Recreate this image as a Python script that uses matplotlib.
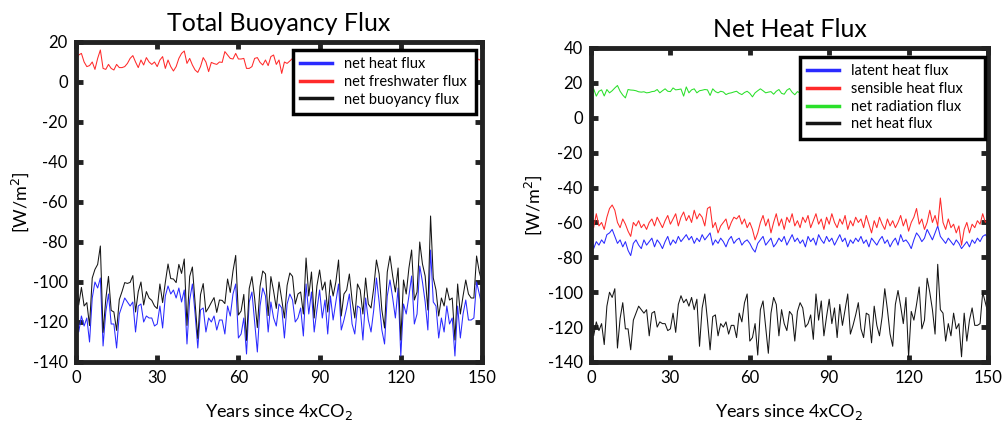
import numpy as np
import matplotlib
matplotlib.use("Agg")
import matplotlib.pyplot as plt
from matplotlib.lines import Line2D

plt.rcParams['font.family'] = ['Lato', 'DejaVu Sans']
plt.rcParams['axes.unicode_minus'] = False

# ---------------- data ----------------
x_ticks = [0, 30, 60, 90, 120, 150]
left_yticks = [-140, -120, -100, -80, -60, -40, -20, 0, 20]
right_yticks = [-140, -120, -100, -80, -60, -40, -20, 0, 20, 40]

# net heat flux (left blue, right black) years 0..150
net_heat = [
    -107, -125, -117, -122, -118, -130, -108, -100, -103, -98,
    -132, -115, -106, -121, -121, -133, -116, -112, -108, -110,
    -112, -110, -125, -112, -111, -120, -117, -118, -118, -122,
    -121, -112, -123, -107, -102, -106, -104, -108, -103, -110,
    -104, -131, -109, -101, -116, -133, -114, -113, -125, -118,
    -120, -117, -124, -119, -119, -126, -112, -117, -106, -101,
    -128, -126, -118, -136, -110, -105, -120, -135, -112, -103,
    -107, -125, -110, -118, -122, -111, -113, -128, -111, -106,
    -109, -120, -118, -113, -127, -101, -116, -105, -125, -114,
    -104, -118, -109, -126, -107, -119, -110, -101, -124, -119,
    -113, -106, -121, -126, -112, -113, -129, -108, -119, -125,
    -114, -98, -110, -124, -131, -107, -99, -108, -118, -103,
    -137, -111, -116, -107, -97, -121, -116, -92, -100, -110,
    -124, -84, -110, -112, -128, -118, -125, -112, -121, -118,
    -137, -112, -128, -116, -109, -119, -119, -118, -100, -106,
    -112]

net_freshwater = [
    11, 13.5, 14.3, 10, 7.7, 8.2, 10, 6.3, 11.8, 16,
    6.8, 6.3, 8.8, 6.8, 6, 8.8, 7.2, 7.2, 7.7, 9.3,
    11.8, 13.2, 10, 7.2, 11, 8.5, 12.2, 10, 8.8, 10,
    7.7, 11, 12.7, 6.8, 11, 7.7, 5.5, 7.7, 11.8, 14.3,
    15.5, 9.3, 11.8, 8.5, 6, 4.8, 7.7, 12.2, 10, 5.2,
    9.8, 9.2, 8.8, 10, 9.8, 15.2, 13.5, 11.8, 11.5, 14.3,
    11.5, 11.5, 11.8, 6.8, 6.8, 7.7, 11.8, 12.2, 9.8, 8.5,
    11, 8.2, 12.7, 13.5, 8.8, 11, 4.3, 10, 9.3, 10.5,
    11.8, 9, 12, 8, 11, 13, 9, 10, 7, 12,
    10, 12, 9, 11, 8, 12, 10, 12, 7, 12,
    9, 10, 12, 8, 11, 9, 12, 10, 8, 12,
    11, 9, 12, 10, 8, 12, 12, 11, 12, 10,
    8, 12, 10, 12, 12, 12, 11, 12, 9, 12,
    10, 12, 12, 8, 11, 10, 12, 9, 12, 10,
    8, 11, 12, 9, 10, 12, 11, 10, 12, 11,
    12]

net_buoyancy = [
    -96, -111.5, -102.7, -112, -110.3, -121.8, -98, -93.7, -91.2, -82,
    -125.2, -108.7, -97.2, -114.2, -115, -124.2, -108.8, -104.8, -100.3, -100.7,
    -100.2, -96.8, -115, -104.8, -100, -111.5, -104.8, -108, -109.2, -112,
    -113.3, -101, -110.3, -100.2, -91, -98.3, -98.5, -100.3, -91.2, -95.7,
    -88.5, -121.7, -97.2, -92.5, -110, -128.2, -106.3, -100.8, -115, -112.8,
    -110.2, -107.8, -115.2, -109, -109.2, -110.8, -98.5, -105.2, -94.5, -86.7,
    -116.5, -114.5, -106.2, -129.2, -103.2, -97.3, -108.2, -122.8, -102.2, -94.5,
    -96, -116.8, -97.3, -104.5, -113.2, -100, -108.7, -118, -101.7, -95.5,
    -97.2, -111, -106, -105, -116, -88, -107, -95, -118, -102,
    -94, -104, -100, -115, -99, -107, -100, -89, -117, -106,
    -104, -96, -109, -118, -101, -104, -116, -98, -111, -113,
    -103, -89, -96, -114, -123, -95, -87, -97, -105, -93,
    -129, -99, -106, -93, -84, -109, -105, -80, -91, -97,
    -114, -67, -98, -104, -117, -108, -112, -103, -109, -108,
    -129, -101, -116, -107, -99, -106, -108, -108, -87, -95,
    -100]

latent_heat = [
    -68, -75, -71, -73, -70, -72, -67, -66, -64, -68,
    -72, -70, -74, -71, -76, -79, -72, -70, -73, -75,
    -70, -73, -71, -69, -74, -70, -72, -75, -71, -68,
    -73, -70, -72, -68, -71, -69, -67, -70, -68, -72,
    -69, -71, -67, -70, -68, -66, -73, -70, -72, -69,
    -71, -74, -70, -68, -72, -70, -69, -73, -71, -70,
    -72, -75, -77, -72, -70, -68, -73, -71, -69, -74,
    -72, -69, -71, -68, -73, -70, -67, -71, -69, -72,
    -70, -74, -68, -71, -69, -73, -67, -70, -72, -68,
    -71, -69, -73, -70, -67, -71, -69, -74, -70, -72,
    -69, -71, -68, -72, -70, -74, -69, -71, -73, -70,
    -68, -72, -70, -74, -71, -69, -73, -67, -71, -70,
    -72, -75, -70, -66, -68, -71, -69, -64, -67, -70,
    -66, -62, -68, -70, -72, -69, -71, -73, -70, -72,
    -75, -73, -71, -74, -70, -72, -69, -71, -68, -67,
    -69]

sensible_heat = [
    -58, -63, -55, -62, -60, -64, -57, -52, -50, -53,
    -60, -63, -58, -61, -65, -68, -60, -62, -59, -63,
    -61, -64, -60, -58, -62, -57, -60, -63, -59, -56,
    -61, -58, -55, -62, -57, -54, -59, -56, -60, -53,
    -58, -55, -57, -62, -52, -51, -63, -60, -66, -62,
    -60, -58, -64, -60, -57, -58, -56, -61, -58, -63,
    -60, -64, -70, -66, -60, -56, -62, -58, -66, -60,
    -55, -62, -58, -64, -57, -60, -55, -62, -59, -63,
    -57, -60, -56, -63, -59, -55, -61, -58, -64, -57,
    -61, -55, -60, -63, -58, -61, -56, -64, -59, -62,
    -57, -60, -58, -63, -56, -61, -66, -59, -63, -57,
    -61, -64, -58, -62, -59, -63, -60, -56, -62, -58,
    -65, -60, -57, -52, -61, -58, -64, -60, -53, -60,
    -56, -62, -46, -60, -64, -58, -63, -61, -66, -62,
    -73, -64, -60, -66, -61, -63, -59, -61, -55, -60,
    -58]

net_radiation = [
    13.3, 16.6, 12.4, 15.2, 16.0, 12.5, 16.2, 14.3, 15.5, 17.1,
    18.5, 15.2, 13.0, 11.4, 16.2, 15.9, 15.8, 15.5, 14.9, 14.7,
    14.9, 14.3, 14.5, 15.0, 15.2, 16.2, 14.3, 15.5, 16.6, 15.2,
    15.0, 17.1, 16.0, 16.2, 16.5, 12.4, 17.7, 14.3, 16.0, 16.6,
    14.3, 15.5, 15.8, 16.2, 16.0, 12.8, 16.6, 15.0, 14.3, 15.2,
    14.8, 13.3, 14.0, 14.3, 14.8, 15.2, 14.0, 13.3, 14.5, 15.2,
    14.0, 12.0, 14.3, 15.5, 16.6, 15.5, 14.3, 14.7, 15.0, 13.5,
    15.2, 16.2, 14.0, 13.5, 15.8, 16.8, 14.6, 13.2, 15.0, 14.2,
    15.5, 16.1, 14.4, 15.3, 13.8, 15.9, 16.4, 14.7, 15.1, 13.9,
    15.6, 16.3, 14.8, 15.2, 14.1, 15.7, 16.0, 14.5, 15.4, 14.9,
    15.8, 14.3, 16.2, 15.0, 13.9, 15.5, 16.1, 14.6, 15.3, 14.8,
    16.0, 14.4, 15.2, 15.7, 14.1, 15.9, 14.8, 16.3, 15.0, 14.5,
    15.4, 16.2, 14.7, 15.1, 13.8, 15.6, 16.5, 14.9, 15.3, 14.2,
    15.9, 16.4, 14.6, 15.2, 15.8, 14.3, 16.0, 14.8, 15.5, 14.1,
    15.7, 16.3, 14.9, 15.1, 14.4, 15.8, 16.2, 14.7, 15.3, 14.0,
    16.0]

left_labels = ["net heat flux", "net freshwater flux", "net buoyancy flux"]
right_labels = ["latent heat flux", "sensible heat flux", "net radiation flux", "net heat flux"]

# ---------------- plotting ----------------
W, H = 1003, 428
fig = plt.figure(figsize=(W / 100, H / 100), dpi=100)

def fx(px):
    return px / W

def fy(py):
    return 1 - py / H

axL = fig.add_axes([fx(76), fy(362), fx(482) - fx(76), fy(42) - fy(362)])
axR = fig.add_axes([fx(591), fy(362), fx(988) - fx(591), fy(48) - fy(362)])

BLUE = '#2a2aff'
RED = '#ff2a2a'
GREEN = '#2ae02a'
BLACK = '#151515'
LW = 0.75

def yrs(s):
    return np.arange(len(s))

axL.plot(yrs(net_heat), net_heat, color=BLUE, lw=LW)
axL.plot(yrs(net_freshwater), net_freshwater, color=RED, lw=LW)
axL.plot(yrs(net_buoyancy), net_buoyancy, color=BLACK, lw=LW)

axR.plot(yrs(latent_heat), latent_heat, color=BLUE, lw=LW)
axR.plot(yrs(sensible_heat), sensible_heat, color=RED, lw=LW)
axR.plot(yrs(net_radiation), net_radiation, color=GREEN, lw=LW)
axR.plot(yrs(net_heat), net_heat, color=BLACK, lw=LW)

def style(ax, yticks, title, ylabelpad):
    ax.set_xlim(0, 150)
    ax.set_ylim(yticks[0], yticks[-1])
    ax.set_xticks(x_ticks)
    ax.set_yticks(yticks)
    for sp in ax.spines.values():
        sp.set_linewidth(3.5)
        sp.set_color('#222222')
    ax.tick_params(direction='in', length=5, width=3.5, color='#222222',
                   top=True, right=True, labelsize=12, pad=6)
    ax.set_xlabel("Years since 4xCO$_2$", fontsize=13, labelpad=11)
    ax.set_ylabel("[W/m$^2$]", fontsize=13, labelpad=ylabelpad)
    ax.set_title(title, fontsize=18, pad=8)

style(axL, left_yticks, "Total Buoyancy Flux", 1)
style(axR, right_yticks, "Net Heat Flux", 3)

def legend(ax, colors, labels, bbox):
    handles = [Line2D([0], [0], color=c, lw=2.5) for c in colors]
    lg = ax.legend(handles, labels, loc='upper left', bbox_to_anchor=bbox,
                   mode='expand', fontsize=10.5, fancybox=False, framealpha=1,
                   edgecolor='black', handlelength=2.2, borderpad=0.5,
                   labelspacing=0.25, handletextpad=0.8, borderaxespad=0)
    lg.get_frame().set_linewidth(2.5)
    return lg

legend(axL, [BLUE, RED, BLACK], left_labels, (0.534, 0.975, 0.451, 0.0))
legend(axR, [BLUE, RED, GREEN, BLACK], right_labels, (0.526, 0.971, 0.466, 0.0))

fig.savefig("out.png", dpi=100)
